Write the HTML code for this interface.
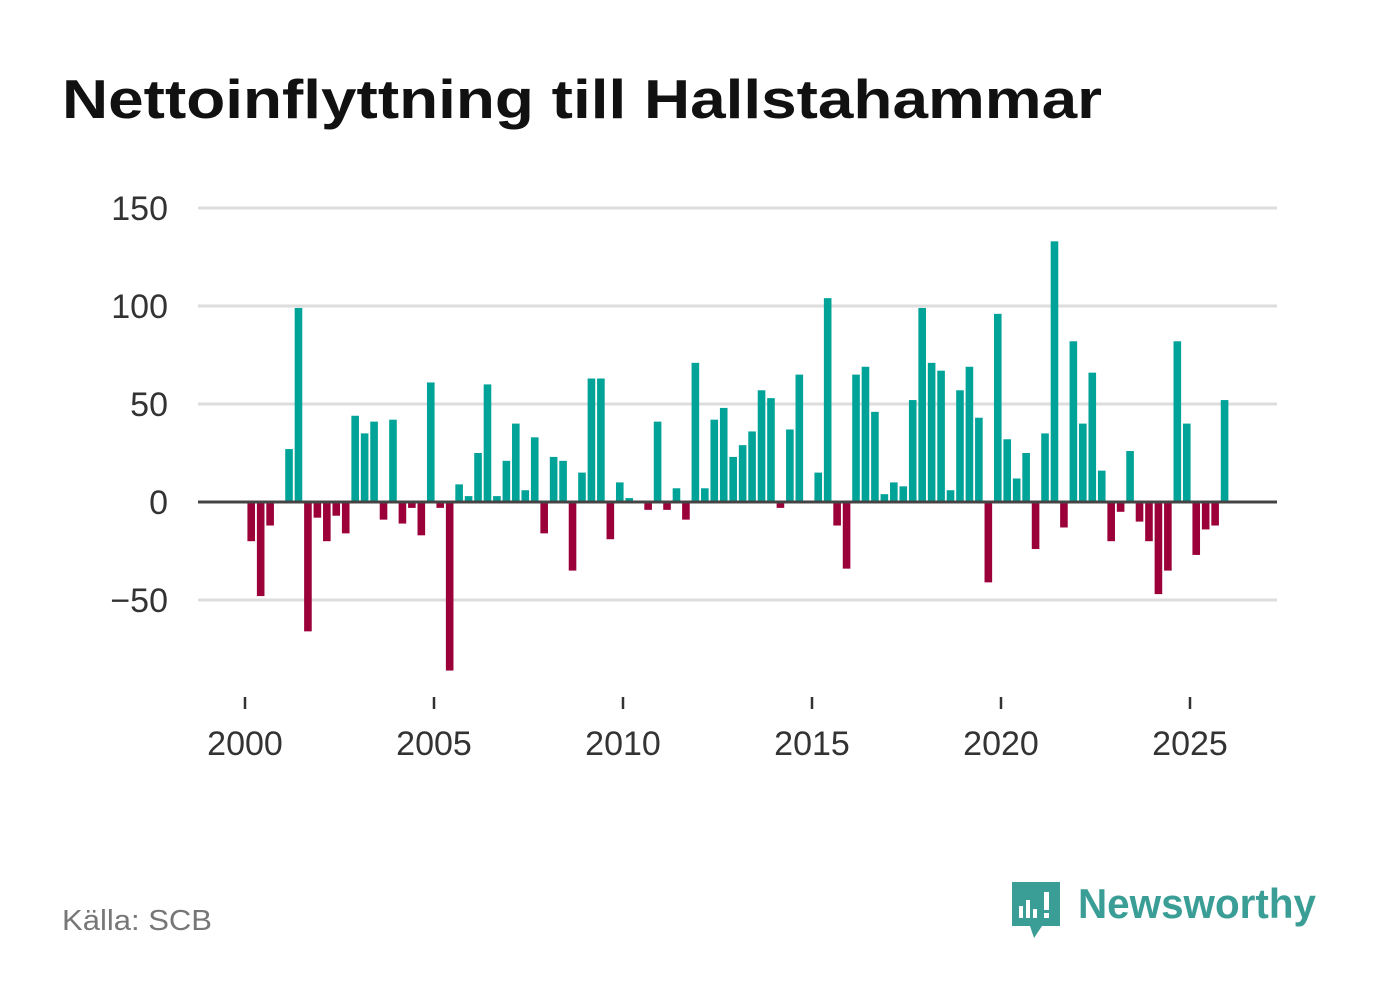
<!DOCTYPE html>
<html><head><meta charset="utf-8"><style>
body{margin:0;background:#fff;width:1382px;height:999px;overflow:hidden;font-family:"Liberation Sans","DejaVu Sans",sans-serif}
</style></head><body>
<svg width="1382" height="999">
<text x="62" y="118" font-size="55" font-weight="bold" fill="#111" textLength="1040" lengthAdjust="spacingAndGlyphs">Nettoinflyttning till Hallstahammar</text>
<g id="grid"></g><g id="bars"></g><g id="axis"></g>
<text x="62" y="930" font-size="29" fill="#777" textLength="150" lengthAdjust="spacingAndGlyphs">Källa: SCB</text>
<g>
<path d="M1012 882 h48 v44 h-18 l-8 12 l-4 -12 h-18 z" fill="#3a9e96"/>
<rect x="1019" y="906" width="4" height="12" fill="#fff"/><rect x="1026" y="900" width="4" height="18" fill="#fff"/><rect x="1033" y="909" width="4" height="9" fill="#fff"/><rect x="1044" y="892" width="5" height="18" fill="#fff"/><rect x="1044" y="913" width="5" height="5" fill="#fff"/>
<text x="1078" y="918" font-size="42" font-weight="bold" fill="#3a9e96" textLength="238" lengthAdjust="spacingAndGlyphs">Newsworthy</text>
</g>
</svg>
<script>
const values=[-20,-48,-12,0,27,99,-66,-8,-20,-7,-16,44,35,41,-9,42,-11,-3,-17,61,-3,-86,9,3,25,60,3,21,40,6,33,-16,23,21,-35,15,63,63,-19,10,2,0,-4,41,-4,7,-9,71,7,42,48,23,29,36,57,53,-3,37,65,0,15,104,-12,-34,65,69,46,4,10,8,52,99,71,67,6,57,69,43,-41,96,32,12,25,-24,35,133,-13,82,40,66,16,-20,-5,26,-10,-20,-47,-35,82,40,-27,-14,-12,52];
const yTicks=[150,100,50,0,-50];
const xYears=[2000,2005,2010,2015,2020,2025];
const startYear=2000;
const ns="http://www.w3.org/2000/svg";
const y=v=>502-v*1.96;
const x=t=>245+(t-startYear)*37.8;
const grid=document.getElementById('grid'),bars=document.getElementById('bars'),axis=document.getElementById('axis');
function mk(tag,attrs,parent){const e=document.createElementNS(ns,tag);for(const k in attrs)e.setAttribute(k,attrs[k]);parent.appendChild(e);return e;}
yTicks.forEach(v=>{
 if(v!==0){const l=mk('line',{x1:198,x2:1277,y1:y(v),y2:y(v),stroke:'#ddd','stroke-width':3},grid);
 
 }
 const t=mk('text',{x:168,y:y(v)+12,'text-anchor':'end','font-size':34,fill:'#333'},grid);
 t.textContent=v<0?'\u2212'+(-v):v;
 
 
});
values.forEach((v,i)=>{
 const cx=x(startYear+(i+0.5)/4)+1.5;
 const r=mk('rect',{x:cx-3.8,y:Math.min(y(v),502),width:7.6,height:Math.abs(v*1.96),fill:v>=0?'#00a398':'#9b0039'},bars);
 
 
});
const z=mk('line',{x1:198,x2:1277,y1:502,y2:502,stroke:'#444','stroke-width':3},axis);


xYears.forEach(yr=>{
 const tk=mk('line',{x1:x(yr),x2:x(yr),y1:697,y2:709,stroke:'#333','stroke-width':2.5},axis);
 
 
 const t=mk('text',{x:x(yr),y:755,'text-anchor':'middle','font-size':34,fill:'#333'},axis);
 t.textContent=yr;
 
 
});
</script>
</body></html>
